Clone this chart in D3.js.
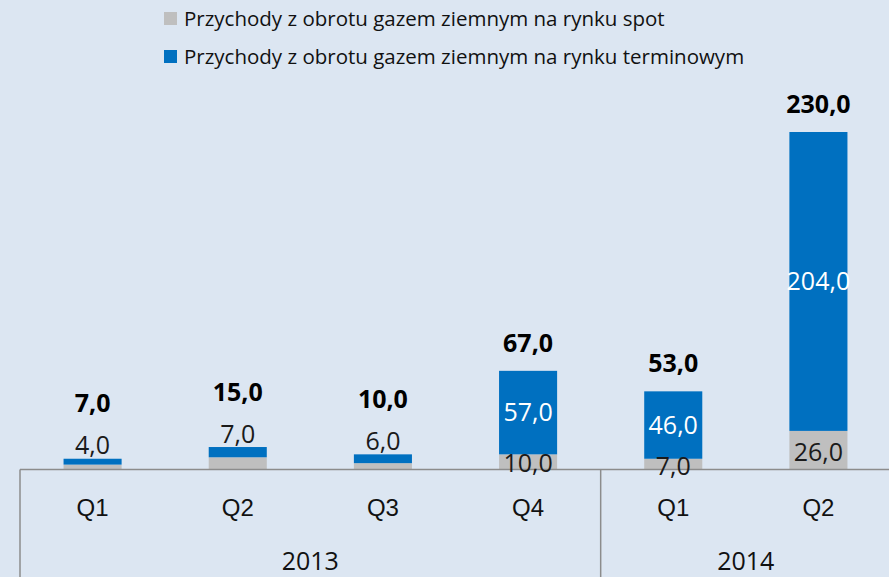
<!DOCTYPE html>
<html>
<head>
<meta charset="utf-8">
<script src="https://cdn.jsdelivr.net/npm/d3@7"></script>
<style>
  html, body { margin: 0; padding: 0; background: #dce6f2; }
  svg { display: block; font-family: "Open Sans", sans-serif; }
</style>
</head>
<body>
<svg id="chart" width="889" height="577"></svg>
<script>
// quarters and the year each one belongs to
var quarters = ['Q1', 'Q2', 'Q3', 'Q4', 'Q1', 'Q2'];
var years = ['2013', '2013', '2013', '2013', '2014', '2014'];
// revenue, spot market (grey) and futures market (blue)
var spot = [3, 8, 4, 10, 7, 26];
var term = [4, 7, 6, 57, 46, 204];
var totals = [7, 15, 10, 67, 53, 230];
// the original shows spot labels only on the last three bars
var showSpot = [false, false, false, true, true, true];
var seriesNames = [
  'Przychody z obrotu gazem ziemnym na rynku spot',
  'Przychody z obrotu gazem ziemnym na rynku terminowym'
];

var colors = ['#bfbfbf', '#0070c0'];
var fmt = function (v) { return d3.format('.1f')(v).replace('.', ','); };

var svg = d3.select('#chart');

var x = d3.scaleBand()
  .domain(d3.range(quarters.length))
  .range([20, 891])
  .paddingInner(0.6)
  .paddingOuter(0.3);

var y = d3.scaleLinear()
  .domain([0, 230])
  .range([469, 132]);

var rows = quarters.map(function (q, i) {
  return { i: i, spot: spot[i], term: term[i] };
});
var stacked = d3.stack().keys(['spot', 'term'])(rows);

// bars
svg.selectAll('g.series')
  .data(stacked)
  .enter()
  .append('g')
  .attr('class', 'series')
  .attr('fill', function (d, k) { return colors[k]; })
  .selectAll('rect')
  .data(function (d) { return d; })
  .enter()
  .append('rect')
  .attr('x', function (d) { return x(d.data.i); })
  .attr('width', x.bandwidth())
  .attr('y', function (d) { return y(d[1]); })
  .attr('height', function (d) { return y(d[0]) - y(d[1]); });

// axis frame
var step = x.step();
var half = x.paddingInner() * step / 2;
var left = x(0) - x.paddingOuter() * step;
var right = x(quarters.length - 1) + x.bandwidth() + x.paddingOuter() * step;
var frame = svg.append('g')
  .attr('stroke', '#8c8c8c')
  .attr('stroke-width', 1.5)
  .attr('fill', 'none');
frame.append('line')
  .attr('x1', left).attr('x2', right)
  .attr('y1', y(0) + 0.5).attr('y2', y(0) + 0.5);

// year groups
var groups = [];
years.forEach(function (yr, i) {
  var g = groups[groups.length - 1];
  if (!g || g.year !== yr) groups.push({ year: yr, first: i, last: i });
  else g.last = i;
});
groups.forEach(function (g) {
  g.x0 = g.first === 0 ? left : x(g.first) - half;
  g.x1 = g.last === quarters.length - 1 ? right : x(g.last) + x.bandwidth() + half;
});
frame.selectAll('line.sep')
  .data(groups)
  .enter()
  .append('line')
  .attr('class', 'sep')
  .attr('x1', function (d) { return d.x0; })
  .attr('x2', function (d) { return d.x0; })
  .attr('y1', y(0) + 0.5)
  .attr('y2', 600);

// quarter labels
var xAxis = svg.append('g')
  .attr('transform', 'translate(0,' + y(0) + ')')
  .call(d3.axisBottom(x).tickSize(0).tickPadding(30)
    .tickFormat(function (i) { return quarters[i]; }));
xAxis.select('.domain').remove();
xAxis.selectAll('text')
  .attr('font-family', null)
  .attr('font-size', 24)
  .attr('fill', '#111');

// year labels
svg.selectAll('text.year')
  .data(groups)
  .enter()
  .append('text')
  .attr('class', 'year')
  .attr('x', function (d) { return (d.x0 + d.x1) / 2; })
  .attr('y', 570)
  .attr('text-anchor', 'middle')
  .attr('font-size', 25)
  .attr('fill', '#111')
  .text(function (d) { return d.year; });

// value labels
var labels = svg.append('g').attr('text-anchor', 'middle');
var cx = function (i) { return x(i) + x.bandwidth() / 2; };

// spot labels, centred in the grey segment
labels.selectAll('text.spot')
  .data(rows.filter(function (d) { return showSpot[d.i]; }))
  .enter()
  .append('text')
  .attr('x', function (d) { return cx(d.i); })
  .attr('y', function (d) { return (y(0) + y(d.spot)) / 2 + 2; })
  .attr('dy', '0.35em')
  .attr('font-size', 25)
  .attr('fill', '#1a1a1a')
  .text(function (d) { return fmt(d.spot); });

// futures labels: inside when the segment is tall, above it otherwise
var inside = function (d) { return y(d.spot) - y(d.spot + d.term) > 40; };
var termY = function (d) {
  var top = y(d.spot + d.term);
  return inside(d) ? (top + y(d.spot)) / 2 : top - 13;
};
labels.selectAll('text.term')
  .data(rows)
  .enter()
  .append('text')
  .attr('x', function (d) { return cx(d.i); })
  .attr('y', termY)
  .attr('dy', '0.35em')
  .attr('font-size', 25)
  .attr('fill', function (d) { return inside(d) ? '#fff' : '#1a1a1a'; })
  .text(function (d) { return fmt(d.term); });

// totals in bold above everything
labels.selectAll('text.total')
  .data(rows)
  .enter()
  .append('text')
  .attr('x', function (d) { return cx(d.i); })
  .attr('y', function (d) {
    var top = y(totals[d.i]);
    return inside(d) ? top - 28 : termY(d) - 42;
  })
  .attr('dy', '0.35em')
  .attr('font-size', 25)
  .attr('font-weight', 'bold')
  .attr('fill', '#000')
  .text(function (d) { return fmt(totals[d.i]); });

// legend
var legend = svg.selectAll('g.legend')
  .data(seriesNames)
  .enter()
  .append('g')
  .attr('class', 'legend')
  .attr('transform', function (d, k) { return 'translate(164,' + (12 + k * 38) + ')'; });
legend.append('rect')
  .attr('width', 13)
  .attr('height', 13)
  .attr('fill', function (d, k) { return colors[k]; });
legend.append('text')
  .attr('x', 20)
  .attr('y', 7)
  .attr('dy', '0.35em')
  .attr('font-size', 20.5)
  .attr('fill', '#111')
  .text(function (d) { return d; });
</script>
</body>
</html>
